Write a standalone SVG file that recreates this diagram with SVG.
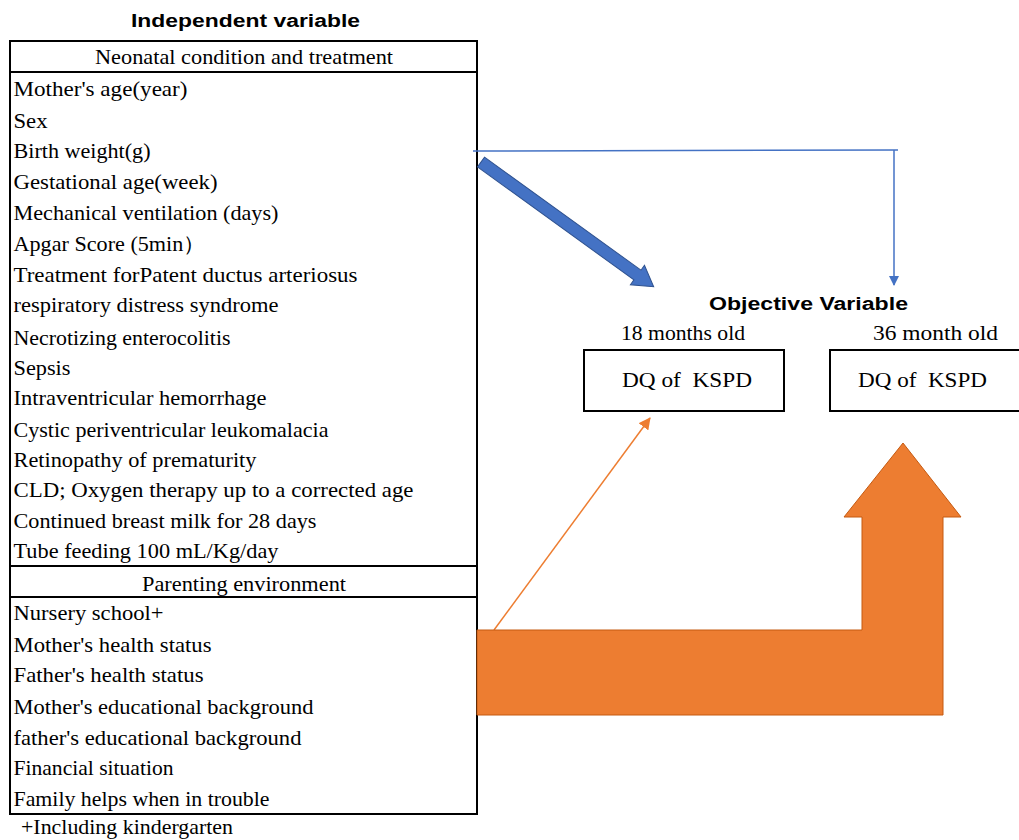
<svg xmlns="http://www.w3.org/2000/svg" width="1019" height="840" viewBox="0 0 1019 840">
<defs>
<style>
.t{font-family:"Liberation Serif","Times New Roman",serif;font-size:21px;fill:#000}
.c{text-anchor:middle}
.h{font-family:"Liberation Sans",Arial,sans-serif;font-size:18px;font-weight:bold;fill:#000;text-anchor:middle}
.box{fill:#fff;stroke:#000;stroke-width:2}
.ln{stroke:#000;stroke-width:2}
</style>
<marker id="ab" markerWidth="10" markerHeight="10" refX="9" refY="5" orient="auto" markerUnits="userSpaceOnUse" viewBox="0 0 10 10">
<path d="M0,0 L10,5 L0,10 z" fill="#4472C4"/>
</marker>
<marker id="ao" markerWidth="12" markerHeight="12" refX="11" refY="6" orient="auto" markerUnits="userSpaceOnUse" viewBox="0 0 12 12">
<path d="M0,0 L12,6 L0,12 z" fill="#ED7D31"/>
</marker>
</defs>
<rect width="1019" height="840" fill="#fff"/>
<g id="independent">
<text class="h" x="245.5" y="27" textLength="229" lengthAdjust="spacingAndGlyphs">Independent variable</text>
<rect class="box" x="10" y="41" width="467" height="773"/>
<line class="ln" x1="10" y1="72" x2="477" y2="72"/>
<line class="ln" x1="10" y1="566" x2="477" y2="566"/>
<line class="ln" x1="10" y1="597" x2="477" y2="597"/>
<text class="t c" x="244" y="63.5" textLength="298" lengthAdjust="spacingAndGlyphs">Neonatal condition and treatment</text>
<text class="t" x="13.5" y="96" textLength="174" lengthAdjust="spacingAndGlyphs">Mother's age(year)</text>
<text class="t" x="13.5" y="128" textLength="34" lengthAdjust="spacingAndGlyphs">Sex</text>
<text class="t" x="13.5" y="158" textLength="137" lengthAdjust="spacingAndGlyphs">Birth weight(g)</text>
<text class="t" x="13.5" y="189" textLength="204" lengthAdjust="spacingAndGlyphs">Gestational age(week)</text>
<text class="t" x="13.5" y="220" textLength="265" lengthAdjust="spacingAndGlyphs">Mechanical ventilation (days)</text>
<text class="t" x="13.5" y="251" textLength="192" lengthAdjust="spacingAndGlyphs">Apgar Score (5min）</text>
<text class="t" x="13.5" y="282" textLength="344" lengthAdjust="spacingAndGlyphs">Treatment forPatent ductus arteriosus</text>
<text class="t" x="13.5" y="312" textLength="265" lengthAdjust="spacingAndGlyphs">respiratory distress syndrome</text>
<text class="t" x="13.5" y="345" textLength="217" lengthAdjust="spacingAndGlyphs">Necrotizing enterocolitis</text>
<text class="t" x="13.5" y="375" textLength="57" lengthAdjust="spacingAndGlyphs">Sepsis</text>
<text class="t" x="13.5" y="405" textLength="253" lengthAdjust="spacingAndGlyphs">Intraventricular hemorrhage</text>
<text class="t" x="13.5" y="437" textLength="315" lengthAdjust="spacingAndGlyphs">Cystic periventricular leukomalacia</text>
<text class="t" x="13.5" y="467" textLength="243" lengthAdjust="spacingAndGlyphs">Retinopathy of prematurity</text>
<text class="t" x="13.5" y="497" textLength="400" lengthAdjust="spacingAndGlyphs">CLD; Oxygen therapy up to a corrected age</text>
<text class="t" x="13.5" y="528" textLength="303" lengthAdjust="spacingAndGlyphs">Continued breast milk for 28 days</text>
<text class="t" x="13.5" y="558" textLength="265" lengthAdjust="spacingAndGlyphs">Tube feeding 100 mL/Kg/day</text>
<text class="t c" x="244" y="590.5" textLength="204" lengthAdjust="spacingAndGlyphs">Parenting environment</text>
<text class="t" x="13.5" y="620" textLength="150" lengthAdjust="spacingAndGlyphs">Nursery school+</text>
<text class="t" x="13.5" y="652" textLength="198" lengthAdjust="spacingAndGlyphs">Mother's health status</text>
<text class="t" x="13.5" y="682" textLength="190" lengthAdjust="spacingAndGlyphs">Father's health status</text>
<text class="t" x="13.5" y="714" textLength="300" lengthAdjust="spacingAndGlyphs">Mother's educational background</text>
<text class="t" x="13.5" y="745" textLength="288" lengthAdjust="spacingAndGlyphs">father's educational background</text>
<text class="t" x="13.5" y="775" textLength="160" lengthAdjust="spacingAndGlyphs">Financial situation</text>
<text class="t" x="13.5" y="806" textLength="256" lengthAdjust="spacingAndGlyphs">Family helps when in trouble</text>
<text class="t" x="21" y="834" textLength="212" lengthAdjust="spacingAndGlyphs">+Including kindergarten</text>
</g>
<g id="objective">
<text class="h" x="808.5" y="310" textLength="199" lengthAdjust="spacingAndGlyphs">Objective Variable</text>
<text class="t c" x="683" y="340" textLength="124" lengthAdjust="spacingAndGlyphs">18 months old</text>
<text class="t c" x="935.5" y="340" textLength="125" lengthAdjust="spacingAndGlyphs">36 month old</text>
<rect class="box" x="584" y="350" width="200" height="61"/>
<text class="t c" x="687" y="387" textLength="130" lengthAdjust="spacingAndGlyphs">DQ of&#160; KSPD</text>
<rect class="box" x="830" y="350" width="200" height="61"/>
<text class="t c" x="922.5" y="387" textLength="129" lengthAdjust="spacingAndGlyphs">DQ of&#160; KSPD</text>
</g>
<g id="connectors">
<line x1="473" y1="151" x2="898" y2="150" stroke="#4472C4" stroke-width="1.5"/>
<line x1="894" y1="150" x2="894" y2="285" stroke="#4472C4" stroke-width="1.5" marker-end="url(#ab)"/>
<g transform="translate(481,162) rotate(35.85)">
<path d="M0,-6 L193,-6 L193,-12 L213,0 L193,12 L193,6 L0,6 z" fill="#4472C4" stroke="#2F528F" stroke-width="1"/>
</g>
<line x1="494" y1="630" x2="650" y2="418" stroke="#ED7D31" stroke-width="1.5" marker-end="url(#ao)"/>
<path d="M477,715 L477,630 L862,630 L862,517 L844,517 L903,443 L961,517 L943,517 L943,715 z" fill="#ED7D31" stroke="#C55A11" stroke-width="1"/>
</g>
</svg>
